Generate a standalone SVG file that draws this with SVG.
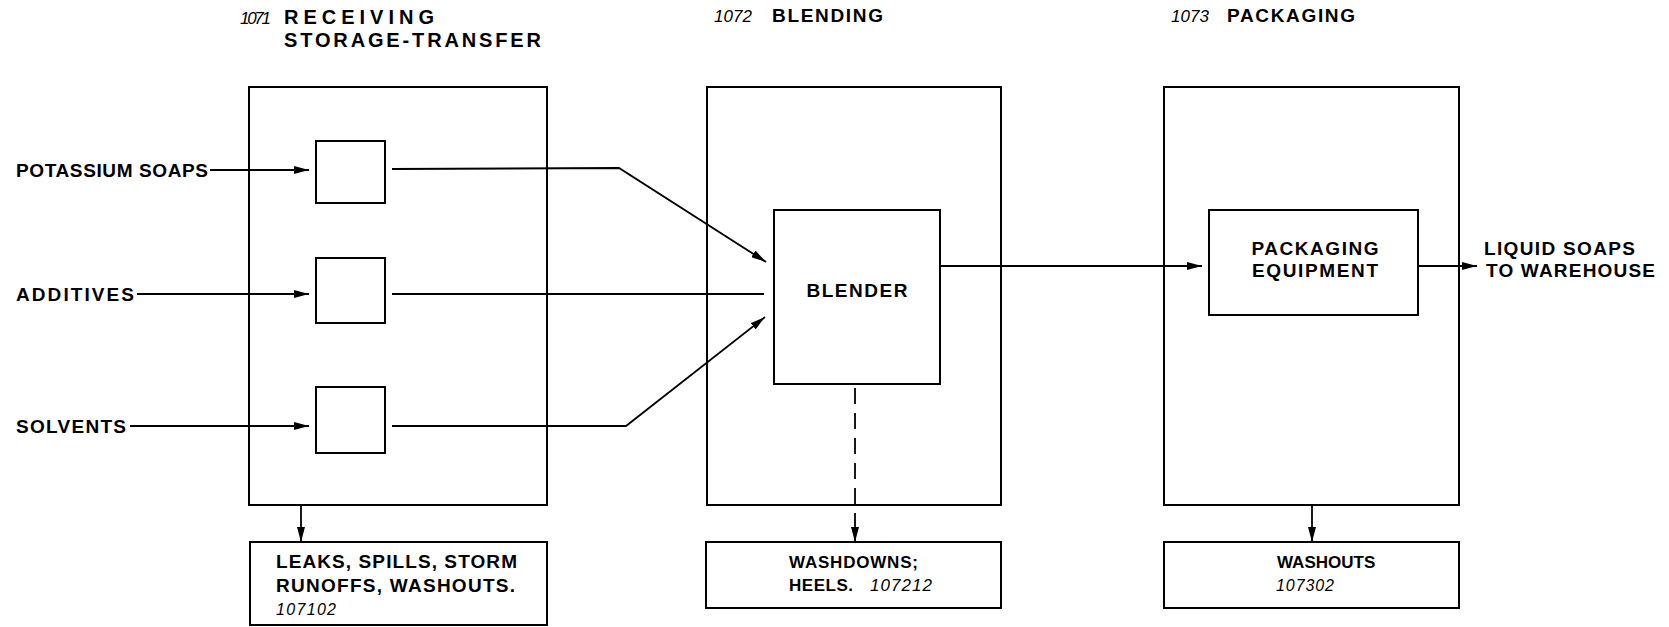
<svg xmlns="http://www.w3.org/2000/svg" width="1669" height="627" viewBox="0 0 1669 627">
<style>
.box{fill:none;stroke:#000;stroke-width:2}
.ln{fill:none;stroke:#000;stroke-width:1.8}
.dash{fill:none;stroke:#000;stroke-width:1.8;stroke-dasharray:16 9}
.t{font-family:"Liberation Sans",Arial,sans-serif;font-weight:bold;font-size:19px;fill:#000}
.tt{font-family:"Liberation Sans",Arial,sans-serif;font-weight:bold;font-size:20px;fill:#000}
.ts{font-family:"Liberation Sans",Arial,sans-serif;font-weight:bold;font-size:17px;fill:#000}
.n{font-family:"Liberation Sans",Arial,sans-serif;font-style:italic;font-size:16px;fill:#000}
</style>
<defs>
<marker id="ah" markerUnits="userSpaceOnUse" markerWidth="15" markerHeight="8" refX="15" refY="4" orient="auto">
<path d="M0,0 L15,4 L0,8 z" fill="#000"/>
</marker>
</defs>
<rect width="1669" height="627" fill="#fff"/>

<g id="stage-1071">
<rect class="box" x="249" y="87" width="298" height="418"/>
<text class="n" x="240" y="24" textLength="31" style="font-size:17px">1071</text>
<text class="tt" x="284" y="24" textLength="150" lengthAdjust="spacing">RECEIVING</text>
<text class="tt" x="284" y="47" textLength="257" lengthAdjust="spacing">STORAGE-TRANSFER</text>
</g>
<g id="tank-1"><rect class="box" x="316" y="141" width="69" height="62"/></g>
<g id="tank-2"><rect class="box" x="316" y="258" width="69" height="65"/></g>
<g id="tank-3"><rect class="box" x="316" y="387" width="69" height="66"/></g>

<g id="stage-1072">
<rect class="box" x="707" y="87" width="294" height="418"/>
<text class="n" x="714" y="22" textLength="38" style="font-size:17px">1072</text>
<text class="t" x="772" y="22" textLength="111" lengthAdjust="spacing">BLENDING</text>
</g>
<g id="blender">
<rect class="box" x="774" y="210" width="166" height="174"/>
<text class="t" x="857" y="297" text-anchor="middle" textLength="101" lengthAdjust="spacing">BLENDER</text>
</g>

<g id="stage-1073">
<rect class="box" x="1164" y="87" width="295" height="418"/>
<text class="n" x="1171" y="22" textLength="38" style="font-size:17px">1073</text>
<text class="t" x="1227" y="22" textLength="128" lengthAdjust="spacing">PACKAGING</text>
</g>
<g id="packaging-equipment">
<rect class="box" x="1209" y="210" width="209" height="105"/>
<text class="t" x="1315" y="255" text-anchor="middle" textLength="127" lengthAdjust="spacing">PACKAGING</text>
<text class="t" x="1315" y="277" text-anchor="middle" textLength="126" lengthAdjust="spacing">EQUIPMENT</text>
</g>

<g id="input-potassium"><text class="t" x="16" y="177" textLength="192" lengthAdjust="spacing">POTASSIUM SOAPS</text></g>
<g id="input-additives"><text class="t" x="16" y="301" textLength="118" lengthAdjust="spacing">ADDITIVES</text></g>
<g id="input-solvents"><text class="t" x="16" y="433" textLength="110" lengthAdjust="spacing">SOLVENTS</text></g>
<g id="output-liquid-soaps">
<text class="t" x="1484" y="255" textLength="151" lengthAdjust="spacing">LIQUID SOAPS</text>
<text class="t" x="1486" y="277" textLength="169" lengthAdjust="spacing">TO WAREHOUSE</text>
</g>

<g id="waste-107102">
<rect class="box" x="250" y="542" width="297" height="83"/>
<text class="t" x="276" y="568" textLength="241" lengthAdjust="spacing">LEAKS, SPILLS, STORM</text>
<text class="t" x="276" y="592" textLength="239" lengthAdjust="spacing">RUNOFFS, WASHOUTS.</text>
<text class="n" x="276" y="615" textLength="60">107102</text>
</g>
<g id="waste-107212">
<rect class="box" x="706" y="542" width="295" height="66"/>
<text class="ts" x="789" y="568" textLength="129" lengthAdjust="spacing">WASHDOWNS;</text>
<text class="ts" x="789" y="591" textLength="64" lengthAdjust="spacing">HEELS.</text>
<text class="n" x="870" y="591" textLength="62" style="font-size:17px">107212</text>
</g>
<g id="waste-107302">
<rect class="box" x="1164" y="542" width="295" height="66"/>
<text class="ts" x="1277" y="568">WASHOUTS</text>
<text class="n" x="1276" y="591" textLength="58">107302</text>
</g>

<g id="connectors">
<line class="ln" x1="210" y1="170" x2="309" y2="170" marker-end="url(#ah)"/>
<line class="ln" x1="137" y1="294" x2="309" y2="294" marker-end="url(#ah)"/>
<line class="ln" x1="130" y1="426" x2="309" y2="426" marker-end="url(#ah)"/>
<polyline class="ln" points="392,169 619,168 766,262" marker-end="url(#ah)"/>
<line class="ln" x1="392" y1="294" x2="764" y2="294"/>
<polyline class="ln" points="392,426 626,426 765,317" marker-end="url(#ah)"/>
<line class="ln" x1="940" y1="266" x2="1202" y2="266" marker-end="url(#ah)"/>
<line class="ln" x1="1418" y1="266" x2="1477" y2="266" marker-end="url(#ah)"/>
<line class="ln" x1="301" y1="505" x2="301" y2="542" marker-end="url(#ah)"/>
<line class="dash" x1="855" y1="388" x2="855" y2="527"/>
<line class="ln" x1="855" y1="527" x2="855" y2="542" marker-end="url(#ah)"/>
<line class="ln" x1="1312" y1="505" x2="1312" y2="542" marker-end="url(#ah)"/>
</g>
</svg>
